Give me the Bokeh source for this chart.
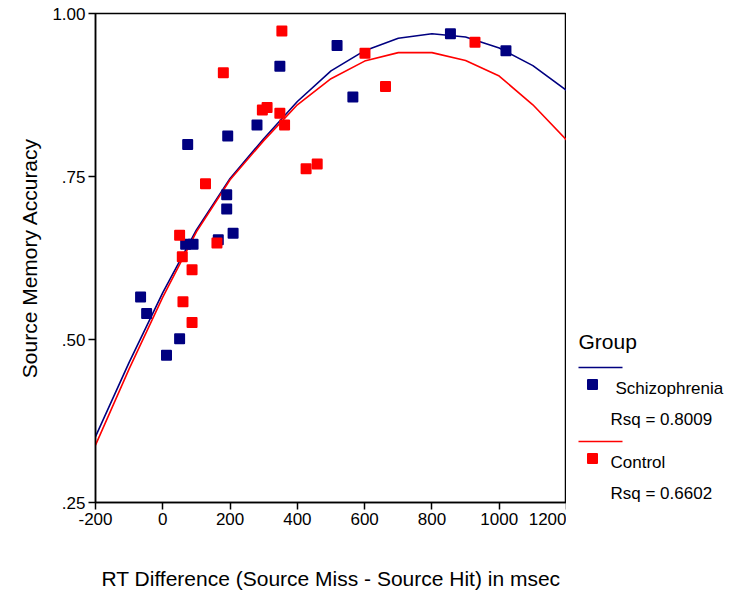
from bokeh.plotting import figure
from bokeh.layouts import row
from bokeh.models import FixedTicker, Range1d
from bokeh.embed import file_html
from bokeh.resources import INLINE
from bokeh.core.properties import value

# ---------------- data ----------------
schiz_rt = [348, 280, 193, 74, 190, 190, 209, 165, 68, 90, -66, -48, 50, 11, 855, 1020, 518, 565]
schiz_acc = [0.919, 0.829, 0.812, 0.799, 0.722, 0.700, 0.663, 0.653, 0.646, 0.646, 0.565, 0.540,
             0.501, 0.476, 0.969, 0.943, 0.951, 0.872]

ctrl_rt = [354, 180, 296, 310, 348, 362, 127, 161, 50, 58, 87, 60, 87, 928, 601, 662, 426, 459]
ctrl_acc = [0.973, 0.909, 0.852, 0.856, 0.847, 0.829, 0.739, 0.648, 0.660, 0.627, 0.607, 0.558,
            0.526, 0.956, 0.939, 0.888, 0.762, 0.769]

fit_rt = [-200, -100, 0, 100, 200, 300, 400, 500, 600, 700, 800, 900, 1000, 1100, 1200]
schiz_fit = [0.351, 0.465, 0.572, 0.668, 0.747, 0.808, 0.865, 0.912, 0.943, 0.962, 0.969, 0.964,
             0.947, 0.920, 0.882]
ctrl_fit = [0.338, 0.455, 0.565, 0.665, 0.745, 0.805, 0.860, 0.900, 0.927, 0.940, 0.940, 0.928,
            0.904, 0.860, 0.806]

x_ticks = [-200, 0, 200, 400, 600, 800, 1000, 1200]
x_tick_labels = ["-200", "0", "200", "400", "600", "800", "1000", "1200"]
y_ticks = [0.25, 0.50, 0.75, 1.00]
y_tick_labels = [".25", ".50", ".75", "1.00"]

x_title = "RT Difference (Source Miss - Source Hit) in msec"
y_title = "Source Memory Accuracy"
legend_title = "Group"
group_names = ["Schizophrenia", "Control"]
group_rsq = ["Rsq = 0.8009", "Rsq = 0.6602"]

BLUE = "#000080"
RED = "#FF0000"
FONT = "Liberation Sans"
H = 590
TOP = 13

# ---------------- main plot ----------------
p = figure(x_range=Range1d(-200, 1200), y_range=Range1d(0.25, 1.0),
           frame_width=471, frame_height=489,
           min_border_left=95, min_border_top=TOP, min_border_bottom=H - TOP - 489,
           min_border_right=0,
           output_backend="svg", toolbar_location=None)
p.background_fill_color = "white"
p.border_fill_color = "white"
p.grid.visible = False
p.outline_line_color = "black"
p.outline_line_width = 1.5

p.line(fit_rt, schiz_fit, line_color=BLUE, line_width=1.6)
p.line(fit_rt, ctrl_fit, line_color=RED, line_width=1.6)
p.scatter(schiz_rt, schiz_acc, marker="square", size=9, fill_color=BLUE,
          line_color=BLUE, line_width=2, line_join="round")
p.scatter(ctrl_rt, ctrl_acc, marker="square", size=9, fill_color=RED,
          line_color=RED, line_width=2, line_join="round")

for ax in (p.xaxis[0], p.yaxis[0]):
    ax.axis_line_color = "black"
    ax.axis_line_width = 1.5
    ax.major_tick_line_color = "black"
    ax.major_tick_line_width = 1.5
    ax.major_tick_out = 7
    ax.major_tick_in = 0
    ax.minor_tick_line_color = None
    ax.major_label_text_font = FONT
    ax.major_label_text_font_size = "17px"
    ax.major_label_text_color = "black"
    ax.axis_label_text_font = FONT
    ax.axis_label_text_font_size = "21px"
    ax.axis_label_text_font_style = "normal"
    ax.axis_label_text_color = "black"
    ax.major_label_standoff = 3

p.xaxis.ticker = FixedTicker(ticks=x_ticks)
p.yaxis.ticker = FixedTicker(ticks=y_ticks)
p.xaxis.major_label_overrides = {t: l for t, l in zip(x_ticks, x_tick_labels)}
p.yaxis.major_label_overrides = {t: l for t, l in zip(y_ticks, y_tick_labels)}
p.xaxis.axis_label = x_title
p.yaxis.axis_label = y_title
p.xaxis.axis_label_standoff = 39
p.yaxis.axis_label_standoff = 8

# ---------------- legend panel ----------------
# the row aligns this panel's frame with the main frame's top edge,
# so its y range starts at the main frame's top offset (page-pixel units)
LW = 160
lf = figure(x_range=Range1d(0, LW), y_range=Range1d(TOP + H, TOP),
            frame_width=LW, frame_height=H, min_border=0,
            x_axis_type=None, y_axis_type=None,
            output_backend="svg", toolbar_location=None)
lf.outline_line_color = None
lf.background_fill_color = "white"
lf.border_fill_color = "white"

lf.text(x=[12], y=[341], text=[legend_title], text_font=value(FONT), text_font_size="21px",
        text_baseline="middle", text_color="black")
colors = [BLUE, RED]
line_y = [367, 441]
name_x = [49, 44]
for i in range(2):
    ly = line_y[i]
    lf.line([12, 56], [ly, ly], line_color=colors[i], line_width=1.6)
    lf.scatter([26], [ly + 17], marker="square", size=9, fill_color=colors[i],
               line_color=colors[i], line_width=2, line_join="round")
    lf.text(x=[name_x[i]], y=[ly + 21], text=[group_names[i]], text_font=value(FONT),
            text_font_size="17px", text_baseline="middle", text_color="black")
    lf.text(x=[44], y=[ly + 52], text=[group_rsq[i]], text_font=value(FONT),
            text_font_size="17px", text_baseline="middle", text_color="black")

layout = row(p, lf)
open("out.html", "w").write(file_html(layout, INLINE))
